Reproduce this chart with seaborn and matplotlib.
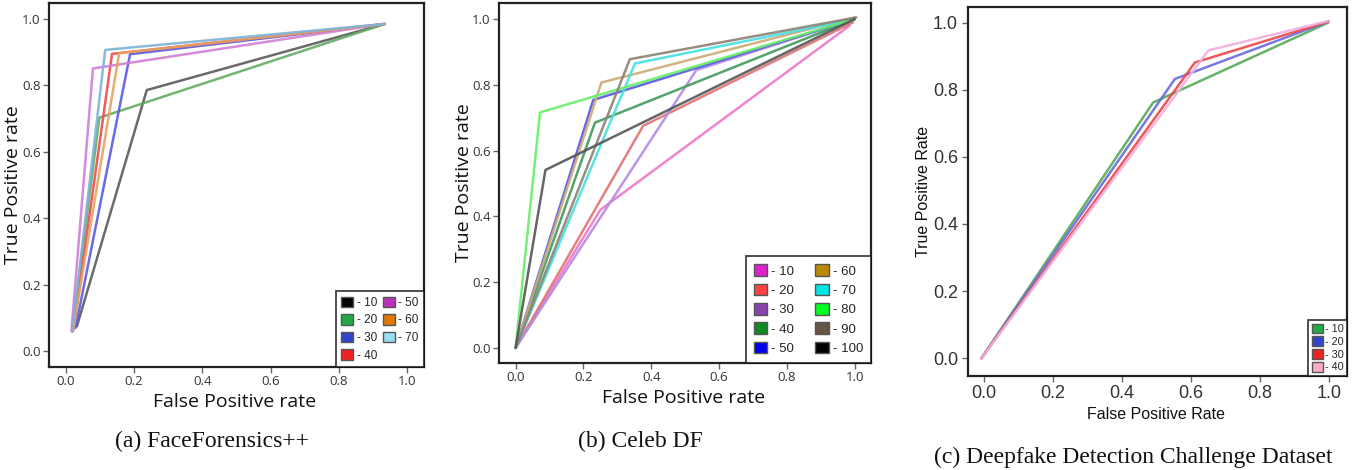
import numpy as np
import pandas as pd
import matplotlib
matplotlib.use("Agg")
import matplotlib.pyplot as plt
from matplotlib.patches import Patch
import seaborn as sns

# --- data (start, knee, end) ---
ff_labels = ["10", "20", "30", "40", "50", "60", "70"]
ff_fpr = [
    [0.032, 0.237, 0.935],
    [0.018, 0.098, 0.935],
    [0.028, 0.188, 0.935],
    [0.022, 0.135, 0.935],
    [0.016, 0.079, 0.930],
    [0.020, 0.156, 0.935],
    [0.018, 0.115, 0.935],
]
ff_tpr = [
    [0.075, 0.786, 0.985],
    [0.058, 0.703, 0.985],
    [0.070, 0.894, 0.985],
    [0.065, 0.895, 0.985],
    [0.062, 0.851, 0.985],
    [0.058, 0.897, 0.985],
    [0.060, 0.907, 0.985],
]
ff_line_colors = ["#5a5a5a", "#62ad62", "#5a5ae6", "#ee4a4a", "#cf7fd6", "#e3a465", "#7fb2d8"]
ff_patch_colors = ["#000000", "#22aa44", "#3344cc", "#ee2222", "#bb33bb", "#dd7700", "#99ddee"]

cdf_labels = ["10", "20", "30", "40", "50", "60", "70", "80", "90", "100"]
cdf_fpr = [
    [0.0, 0.250, 0.985],
    [0.0, 0.376, 0.995],
    [0.0, 0.533, 1.000],
    [0.0, 0.234, 1.000],
    [0.0, 0.229, 1.000],
    [0.0, 0.253, 1.000],
    [0.0, 0.352, 1.000],
    [0.0, 0.072, 1.000],
    [0.0, 0.337, 1.005],
    [0.0, 0.088, 1.000],
]
cdf_tpr = [
    [0.0, 0.420, 0.980],
    [0.0, 0.675, 0.990],
    [0.0, 0.845, 1.000],
    [0.0, 0.685, 1.000],
    [0.0, 0.754, 1.000],
    [0.0, 0.807, 1.005],
    [0.0, 0.865, 1.000],
    [0.0, 0.716, 1.000],
    [0.0, 0.878, 1.005],
    [0.0, 0.541, 1.000],
]
cdf_line_colors = ["#ee77cc", "#e07272", "#b58ae6", "#3f9a5c", "#5858e6", "#cbab74",
                   "#44e0e0", "#66ee66", "#8b8274", "#555555"]
cdf_patch_colors = ["#dd22cc", "#ff4444", "#8844aa", "#118822", "#0000ee", "#bb8800",
                    "#00e5e5", "#00ff22", "#665544", "#000000"]

dfdc_labels = ["10", "20", "30", "40"]
dfdc_fpr = [
    [-0.008, 0.490, 0.998],
    [-0.008, 0.553, 0.998],
    [-0.008, 0.611, 0.998],
    [-0.008, 0.650, 1.000],
]
dfdc_tpr = [
    [0.0, 0.762, 1.000],
    [0.0, 0.832, 1.003],
    [0.0, 0.881, 1.003],
    [0.0, 0.917, 1.005],
]
dfdc_line_colors = ["#55aa55", "#6a6ae0", "#ee4646", "#efb0e0"]
dfdc_patch_colors = ["#22aa44", "#3344cc", "#ee2222", "#ffaacc"]


def to_long(labels, fpr, tpr):
    rows = []
    for lab, xs, ys in zip(labels, fpr, tpr):
        for i, (x, y) in enumerate(zip(xs, ys)):
            rows.append({"label": lab, "fpr": x, "tpr": y, "step": i})
    return pd.DataFrame(rows)


sns.set_theme(style="white")
plt.rcParams["font.family"] = ["Open Sans", "DejaVu Sans"]

fig = plt.figure(figsize=(13.6, 4.7), dpi=100)

panels = [
    dict(rect=[0.036, 0.219, 0.2757, 0.7745], labels=ff_labels, fpr=ff_fpr, tpr=ff_tpr,
         lc=ff_line_colors, pc=ff_patch_colors, font="Open Sans", tick_fs=9.5, tick_pad=2,
         lab_fs=14, xlabel="False Positive rate", ylabel="True Positive rate",
         xlab_y=-0.096, ylab_x=-0.095,
         xlim=(-0.05, 1.05), ylim=(-0.048, 1.048),
         leg=dict(ncol=2, fs=8.5, labelspacing=0.45, columnspacing=0.5, handletextpad=0.3,
                  borderpad=0.45)),
    dict(rect=[0.3669, 0.2277, 0.2735, 0.766], labels=cdf_labels, fpr=cdf_fpr, tpr=cdf_tpr,
         lc=cdf_line_colors, pc=cdf_patch_colors, font="Open Sans", tick_fs=9.5, tick_pad=2,
         lab_fs=14, xlabel="False Positive rate", ylabel="True Positive rate",
         xlab_y=-0.097, ylab_x=-0.095,
         xlim=(-0.049, 1.048), ylim=(-0.046, 1.049),
         leg=dict(ncol=2, fs=9.5, labelspacing=0.45, columnspacing=1.6, handletextpad=0.3,
                  borderpad=0.6)),
    dict(rect=[0.7115, 0.2006, 0.2787, 0.785], labels=dfdc_labels, fpr=dfdc_fpr, tpr=dfdc_tpr,
         lc=dfdc_line_colors, pc=dfdc_patch_colors, font="Liberation Sans", tick_fs=13, tick_pad=3,
         lab_fs=11.5, xlabel="False Positive Rate", ylabel="True Positive Rate",
         xlab_y=-0.104, ylab_x=-0.117,
         xlim=(-0.048, 1.051), ylim=(-0.052, 1.047),
         leg=dict(ncol=1, fs=7.8, labelspacing=0.2, columnspacing=0.5, handletextpad=0.2,
                  borderpad=0.3)),
]

for p in panels:
    ax = fig.add_axes(p["rect"])
    df = to_long(p["labels"], p["fpr"], p["tpr"])
    sns.lineplot(data=df, x="fpr", y="tpr", hue="label", hue_order=p["labels"],
                 palette=dict(zip(p["labels"], p["lc"])), sort=False, estimator=None,
                 linewidth=1.8, alpha=0.9, legend=False, ax=ax)
    ax.set_xlim(*p["xlim"])
    ax.set_ylim(*p["ylim"])
    ticks = [0.0, 0.2, 0.4, 0.6, 0.8, 1.0]
    ax.set_xticks(ticks)
    ax.set_yticks(ticks)
    ax.set_xticklabels([f"{t:.1f}" for t in ticks], family=p["font"], fontsize=p["tick_fs"], color="#333333")
    ax.set_yticklabels([f"{t:.1f}" for t in ticks], family=p["font"], fontsize=p["tick_fs"], color="#333333")
    ax.tick_params(axis="both", direction="out", length=4, width=1, color="#666666",
                   pad=p["tick_pad"], bottom=True, left=True)
    ax.set_xlabel(p["xlabel"], family=p["font"], fontsize=p["lab_fs"], color="#111111", va="center")
    ax.set_ylabel(p["ylabel"], family=p["font"], fontsize=p["lab_fs"], color="#111111", va="center")
    ax.xaxis.set_label_coords(0.496, p["xlab_y"])
    ax.yaxis.set_label_coords(p["ylab_x"], 0.5)
    for s in ax.spines.values():
        s.set_visible(True)
        s.set_color("#222222")
        s.set_linewidth(1.6)

    lg = p["leg"]
    handles = [Patch(facecolor=c, edgecolor="#555555", linewidth=1.0, label=f"- {l}")
               for c, l in zip(p["pc"], p["labels"])]
    leg = ax.legend(handles=handles, loc="lower right", ncol=lg["ncol"], frameon=True,
                    fancybox=False, borderaxespad=0.0, handlelength=1.0, handleheight=1.0,
                    handletextpad=lg["handletextpad"], columnspacing=lg["columnspacing"],
                    labelspacing=lg["labelspacing"], borderpad=lg["borderpad"],
                    prop={"family": "Liberation Sans", "size": lg["fs"]})
    leg.get_frame().set_edgecolor("#111111")
    leg.get_frame().set_linewidth(1.3)

# sub-figure captions
cap = dict(family="Liberation Serif", fontsize=17, ha="center", va="center", color="#111111")
fig.text(212 / 1360, 1 - 441 / 470, "(a) FaceForensics++", **cap)
fig.text(640 / 1360, 1 - 441 / 470, "(b) Celeb DF", **cap)
fig.text(1133 / 1360, 1 - 457 / 470, "(c) Deepfake Detection Challenge Dataset", **cap)

fig.savefig("out.png", dpi=100)
